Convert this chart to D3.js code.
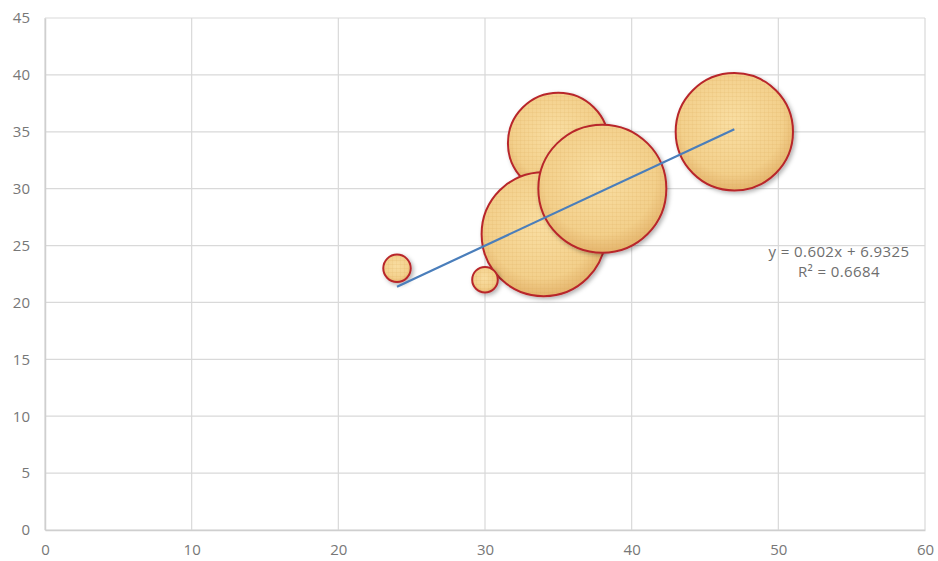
<!DOCTYPE html>
<html><head><meta charset="utf-8">
<script src="https://cdn.jsdelivr.net/npm/d3@7"></script>
<style>html,body{margin:0;padding:0;background:#fff;}svg{display:block;}</style>
</head><body>
<svg id="chart" width="938" height="561"></svg>
<script>
// Data (draw order as in reference)
const xValues = [35, 34, 38, 47, 30, 24];
const yValues = [34, 26, 30, 35, 22, 23];
const bubbleSizes = [31, 47, 50, 42, 2, 2.3];
const xTicks = [0, 10, 20, 30, 40, 50, 60];
const yTicks = [0, 5, 10, 15, 20, 25, 30, 35, 40, 45];
const trendSlope = 0.602;
const trendIntercept = 6.9325;
const trendLabels = ["y = 0.602x + 6.9325", "R\u00B2 = 0.6684"];

const svg = d3.select("#chart");
const mLeft = 45, mRight = 925, mTop = 18, mBottom = 530;
const x = d3.scaleLinear().domain([0, 60]).range([mLeft, mRight]);
const y = d3.scaleLinear().domain([0, 45]).range([mBottom, mTop]);
const r = d3.scaleSqrt().domain([0, 50]).range([0, 64]);

const defs = svg.append("defs");
const rg = defs.append("radialGradient").attr("id", "bfill").attr("cx", "48%").attr("cy", "42%").attr("r", "58%");
rg.append("stop").attr("offset", "0%").attr("stop-color", "#f9dea2");
rg.append("stop").attr("offset", "75%").attr("stop-color", "#f3d08c");
rg.append("stop").attr("offset", "100%").attr("stop-color", "#e4b46c");
const pat = defs.append("pattern").attr("id", "weave").attr("patternUnits", "userSpaceOnUse").attr("width", 4).attr("height", 4);
pat.append("rect").attr("width", 4).attr("height", 1).attr("fill", "#d9a955").attr("opacity", 0.16);
pat.append("rect").attr("width", 1).attr("height", 4).attr("fill", "#d9a955").attr("opacity", 0.12);
const f = defs.append("filter").attr("id", "shadow").attr("x", "-20%").attr("y", "-20%").attr("width", "150%").attr("height", "150%");
f.append("feDropShadow").attr("dx", 2).attr("dy", 2).attr("stdDeviation", 2).attr("flood-color", "#000").attr("flood-opacity", 0.3);

// gridlines
svg.append("g").selectAll("line").data(yTicks).join("line")
  .attr("x1", mLeft).attr("x2", mRight).attr("y1", d => y(d)).attr("y2", d => y(d))
  .attr("stroke", "#d9d9d9").attr("stroke-width", 1.2);
svg.append("g").selectAll("line").data(xTicks).join("line")
  .attr("y1", mTop).attr("y2", mBottom).attr("x1", d => x(d)).attr("x2", d => x(d))
  .attr("stroke", "#d9d9d9").attr("stroke-width", 1.2);

// axes (labels)
const xAxis = d3.axisBottom(x).tickValues(xTicks).tickSize(0).tickPadding(14);
const gx = svg.append("g").attr("transform", `translate(0,${mBottom})`).call(xAxis);
const yAxis = d3.axisLeft(y).tickValues(yTicks).tickSize(0).tickPadding(15);
const gy = svg.append("g").attr("transform", `translate(${mLeft},0)`).call(yAxis);
[gx, gy].forEach(g => {
  g.select(".domain").attr("stroke", "#cfcfcf").attr("stroke-width", 1.5);
  g.selectAll("text").attr("fill", "#777777").style("font-family", "'Open Sans', sans-serif").style("font-size", "15px");
});

// bubbles
const data = xValues.map((d, i) => ({x: d, y: yValues[i], s: bubbleSizes[i]}));
const bg = svg.append("g");
const b = bg.selectAll("g").data(data).join("g");
b.append("circle").attr("cx", d => x(d.x)).attr("cy", d => y(d.y)).attr("r", d => r(d.s))
  .attr("fill", "url(#bfill)").attr("stroke", "#b8262b").attr("stroke-width", 2).attr("filter", "url(#shadow)");
b.append("circle").attr("cx", d => x(d.x)).attr("cy", d => y(d.y)).attr("r", d => Math.max(0, r(d.s) - 1.5))
  .attr("fill", "url(#weave)");

// trendline
const xmin = d3.min(xValues), xmax = d3.max(xValues);
svg.append("line")
  .attr("x1", x(xmin)).attr("y1", y(trendSlope * xmin + trendIntercept))
  .attr("x2", x(xmax)).attr("y2", y(trendSlope * xmax + trendIntercept))
  .attr("stroke", "#4a7ebb").attr("stroke-width", 2.2);

// equation
svg.append("g").selectAll("text").data(trendLabels).join("text")
  .attr("x", 839).attr("y", (d, i) => 257 + i * 20)
  .attr("text-anchor", "middle")
  .attr("fill", "#6e6e6e").style("font-family", "'Open Sans', sans-serif").style("font-size", "15px")
  .style("letter-spacing", "0.4px")
  .text(d => d);
</script>
</body></html>
